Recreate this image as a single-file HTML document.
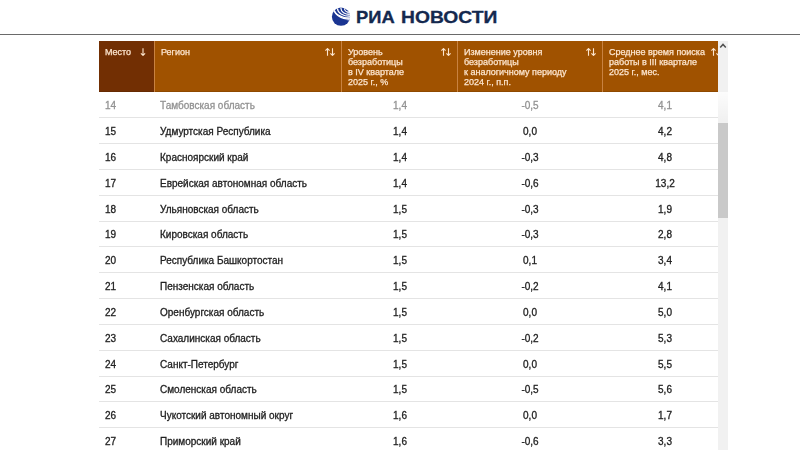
<!DOCTYPE html>
<html><head><meta charset="utf-8">
<style>
*{margin:0;padding:0;box-sizing:border-box}
html,body{width:800px;height:450px;overflow:hidden;background:#fff;font-family:"Liberation Sans",sans-serif}
.topline{position:absolute;left:0;top:33.5px;width:800px;height:1.5px;background:#6a6a6a}
.logo{position:absolute;left:330px;top:6px;width:22px;height:22px}
.lt{position:absolute;top:7.6px;font-weight:bold;font-size:16.5px;color:#14294f;-webkit-text-stroke:0.3px #14294f;white-space:nowrap;transform-origin:0 0}
.hdr{position:absolute;top:40.5px;height:51.5px;background:#a05200;color:#fde6cf;font-size:9px;line-height:9.9px;-webkit-text-stroke:0.25px #fde6cf;box-shadow:inset 0 -1px 0 rgba(0,0,0,0.1)}
.hdr .t{position:absolute;left:5.7px;top:7.2px;white-space:nowrap;will-change:transform}
.hdr .s{position:absolute;top:7.6px;width:10px;height:8px;line-height:0}
.hbg{position:absolute;left:99px;top:40.5px;width:629px;height:51.5px;background:#c88241}
.row{position:absolute;left:99px;width:619px;height:1px;background:#e4e4e4}
.c{position:absolute;font-size:10px;color:#222;white-space:nowrap;line-height:12px;-webkit-text-stroke:0.3px currentColor;will-change:transform}
.sb{position:absolute;left:718px;top:40.5px;width:10px;height:410px;background:#f1f1f1}
.th{position:absolute;left:718px;top:122.6px;width:10px;height:95.5px;background:#c9c9c9}
</style></head><body>
<div class="topline"></div>
<svg class="logo" viewBox="0 0 22 22">
<defs><clipPath id="cp"><circle cx="11" cy="10.7" r="9.1"/></clipPath>
<linearGradient id="fd" x1="0" x2="1" y1="0" y2="0"><stop offset="0.78" stop-color="#fff" stop-opacity="0"/><stop offset="1" stop-color="#fff" stop-opacity="0.55"/></linearGradient></defs>
<circle cx="11" cy="10.7" r="9.1" fill="#1a3592"/>
<g clip-path="url(#cp)" fill="none" stroke="#fff" stroke-width="1.2"><ellipse cx="19.7" cy="2.5" rx="2" ry="1.6" fill="#fff" stroke="none"/><ellipse cx="19.7" cy="2.5" rx="5.2" ry="3.9"/><ellipse cx="19.7" cy="2.5" rx="8.75" ry="5.9"/><ellipse cx="19.7" cy="2.5" rx="12.2" ry="7.75"/><ellipse cx="19.7" cy="2.5" rx="15.6" ry="9.7"/><ellipse cx="19.7" cy="2.5" rx="15.8" ry="10.7"/></g>
<rect x="2" y="0" width="18.2" height="15" fill="url(#fd)" clip-path="url(#cp)"/>
</svg>
<div class="lt" style="left:356px;transform:scaleX(1.11)">РИА</div>
<div class="lt" style="left:400.5px;transform:scaleX(1.167)">НОВОСТИ</div>

<div class="hbg"></div>
<div class="hdr" style="left:99px;width:55px;background:#722f03"><div class="t" style="left:5.8px">Место</div><div class="s" style="left:41px;width:6px"><svg viewBox="0 0 6 8" width="6" height="8"><g fill="none" stroke="#fde6cf" stroke-width="1.1"><path d="M3 0.2V7.4M0.9 5.3L3 7.4L5.1 5.3"/></g></svg></div></div>
<div class="hdr" style="left:155px;width:186px"><div class="t">Регион</div><div class="s" style="right:6px"><svg viewBox="0 0 10 8" width="10" height="8"><g fill="none" stroke="#fde6cf" stroke-width="1.1"><path d="M2.5 7.8V0.6M0.4 2.7L2.5 0.6L4.6 2.7"/><path d="M7.5 0.2V7.4M5.4 5.3L7.5 7.4L9.6 5.3"/></g></svg></div></div>
<div class="hdr" style="left:342px;width:115px"><div class="t">Уровень<br>безработицы<br>в IV квартале<br>2025 г., %</div><div class="s" style="right:6px"><svg viewBox="0 0 10 8" width="10" height="8"><g fill="none" stroke="#fde6cf" stroke-width="1.1"><path d="M2.5 7.8V0.6M0.4 2.7L2.5 0.6L4.6 2.7"/><path d="M7.5 0.2V7.4M5.4 5.3L7.5 7.4L9.6 5.3"/></g></svg></div></div>
<div class="hdr" style="left:458px;width:144px"><div class="t">Изменение уровня<br>безработицы<br>к аналогичному периоду<br>2024 г., п.п.</div><div class="s" style="right:6px"><svg viewBox="0 0 10 8" width="10" height="8"><g fill="none" stroke="#fde6cf" stroke-width="1.1"><path d="M2.5 7.8V0.6M0.4 2.7L2.5 0.6L4.6 2.7"/><path d="M7.5 0.2V7.4M5.4 5.3L7.5 7.4L9.6 5.3"/></g></svg></div></div>
<div class="hdr" style="left:603px;width:125px"><div class="t">Среднее время поиска<br>работы в III квартале<br>2025 г., мес.</div><div class="s" style="right:7px"><svg viewBox="0 0 10 8" width="10" height="8"><g fill="none" stroke="#fde6cf" stroke-width="1.1"><path d="M2.5 7.8V0.6M0.4 2.7L2.5 0.6L4.6 2.7"/><path d="M7.5 0.2V7.4M5.4 5.3L7.5 7.4L9.6 5.3"/></g></svg></div></div>
<div class="c" style="left:104.8px;top:100.30px;color:#929292">14</div>
<div class="c" style="left:160.2px;top:100.30px;color:#929292">Тамбовская область</div>
<div class="c" style="left:360.0px;width:80px;text-align:center;top:100.30px;color:#929292">1,4</div>
<div class="c" style="left:490.29999999999995px;width:80px;text-align:center;top:100.30px;color:#929292">-0,5</div>
<div class="c" style="left:625.0px;width:80px;text-align:center;top:100.30px;color:#929292">4,1</div>
<div class="row" style="top:117.33px"></div>
<div class="c" style="left:104.8px;top:126.13px;color:#222">15</div>
<div class="c" style="left:160.2px;top:126.13px;color:#222">Удмуртская Республика</div>
<div class="c" style="left:360.0px;width:80px;text-align:center;top:126.13px;color:#222">1,4</div>
<div class="c" style="left:490.29999999999995px;width:80px;text-align:center;top:126.13px;color:#222">0,0</div>
<div class="c" style="left:625.0px;width:80px;text-align:center;top:126.13px;color:#222">4,2</div>
<div class="row" style="top:143.16px"></div>
<div class="c" style="left:104.8px;top:151.96px;color:#222">16</div>
<div class="c" style="left:160.2px;top:151.96px;color:#222">Красноярский край</div>
<div class="c" style="left:360.0px;width:80px;text-align:center;top:151.96px;color:#222">1,4</div>
<div class="c" style="left:490.29999999999995px;width:80px;text-align:center;top:151.96px;color:#222">-0,3</div>
<div class="c" style="left:625.0px;width:80px;text-align:center;top:151.96px;color:#222">4,8</div>
<div class="row" style="top:168.99px"></div>
<div class="c" style="left:104.8px;top:177.79px;color:#222">17</div>
<div class="c" style="left:160.2px;top:177.79px;color:#222">Еврейская автономная область</div>
<div class="c" style="left:360.0px;width:80px;text-align:center;top:177.79px;color:#222">1,4</div>
<div class="c" style="left:490.29999999999995px;width:80px;text-align:center;top:177.79px;color:#222">-0,6</div>
<div class="c" style="left:625.0px;width:80px;text-align:center;top:177.79px;color:#222">13,2</div>
<div class="row" style="top:194.82px"></div>
<div class="c" style="left:104.8px;top:203.62px;color:#222">18</div>
<div class="c" style="left:160.2px;top:203.62px;color:#222">Ульяновская область</div>
<div class="c" style="left:360.0px;width:80px;text-align:center;top:203.62px;color:#222">1,5</div>
<div class="c" style="left:490.29999999999995px;width:80px;text-align:center;top:203.62px;color:#222">-0,3</div>
<div class="c" style="left:625.0px;width:80px;text-align:center;top:203.62px;color:#222">1,9</div>
<div class="row" style="top:220.65px"></div>
<div class="c" style="left:104.8px;top:229.45px;color:#222">19</div>
<div class="c" style="left:160.2px;top:229.45px;color:#222">Кировская область</div>
<div class="c" style="left:360.0px;width:80px;text-align:center;top:229.45px;color:#222">1,5</div>
<div class="c" style="left:490.29999999999995px;width:80px;text-align:center;top:229.45px;color:#222">-0,3</div>
<div class="c" style="left:625.0px;width:80px;text-align:center;top:229.45px;color:#222">2,8</div>
<div class="row" style="top:246.48px"></div>
<div class="c" style="left:104.8px;top:255.28px;color:#222">20</div>
<div class="c" style="left:160.2px;top:255.28px;color:#222">Республика Башкортостан</div>
<div class="c" style="left:360.0px;width:80px;text-align:center;top:255.28px;color:#222">1,5</div>
<div class="c" style="left:490.29999999999995px;width:80px;text-align:center;top:255.28px;color:#222">0,1</div>
<div class="c" style="left:625.0px;width:80px;text-align:center;top:255.28px;color:#222">3,4</div>
<div class="row" style="top:272.31px"></div>
<div class="c" style="left:104.8px;top:281.11px;color:#222">21</div>
<div class="c" style="left:160.2px;top:281.11px;color:#222">Пензенская область</div>
<div class="c" style="left:360.0px;width:80px;text-align:center;top:281.11px;color:#222">1,5</div>
<div class="c" style="left:490.29999999999995px;width:80px;text-align:center;top:281.11px;color:#222">-0,2</div>
<div class="c" style="left:625.0px;width:80px;text-align:center;top:281.11px;color:#222">4,1</div>
<div class="row" style="top:298.14px"></div>
<div class="c" style="left:104.8px;top:306.94px;color:#222">22</div>
<div class="c" style="left:160.2px;top:306.94px;color:#222">Оренбургская область</div>
<div class="c" style="left:360.0px;width:80px;text-align:center;top:306.94px;color:#222">1,5</div>
<div class="c" style="left:490.29999999999995px;width:80px;text-align:center;top:306.94px;color:#222">0,0</div>
<div class="c" style="left:625.0px;width:80px;text-align:center;top:306.94px;color:#222">5,0</div>
<div class="row" style="top:323.97px"></div>
<div class="c" style="left:104.8px;top:332.77px;color:#222">23</div>
<div class="c" style="left:160.2px;top:332.77px;color:#222">Сахалинская область</div>
<div class="c" style="left:360.0px;width:80px;text-align:center;top:332.77px;color:#222">1,5</div>
<div class="c" style="left:490.29999999999995px;width:80px;text-align:center;top:332.77px;color:#222">-0,2</div>
<div class="c" style="left:625.0px;width:80px;text-align:center;top:332.77px;color:#222">5,3</div>
<div class="row" style="top:349.80px"></div>
<div class="c" style="left:104.8px;top:358.60px;color:#222">24</div>
<div class="c" style="left:160.2px;top:358.60px;color:#222">Санкт-Петербург</div>
<div class="c" style="left:360.0px;width:80px;text-align:center;top:358.60px;color:#222">1,5</div>
<div class="c" style="left:490.29999999999995px;width:80px;text-align:center;top:358.60px;color:#222">0,0</div>
<div class="c" style="left:625.0px;width:80px;text-align:center;top:358.60px;color:#222">5,5</div>
<div class="row" style="top:375.63px"></div>
<div class="c" style="left:104.8px;top:384.43px;color:#222">25</div>
<div class="c" style="left:160.2px;top:384.43px;color:#222">Смоленская область</div>
<div class="c" style="left:360.0px;width:80px;text-align:center;top:384.43px;color:#222">1,5</div>
<div class="c" style="left:490.29999999999995px;width:80px;text-align:center;top:384.43px;color:#222">-0,5</div>
<div class="c" style="left:625.0px;width:80px;text-align:center;top:384.43px;color:#222">5,6</div>
<div class="row" style="top:401.46px"></div>
<div class="c" style="left:104.8px;top:410.26px;color:#222">26</div>
<div class="c" style="left:160.2px;top:410.26px;color:#222">Чукотский автономный округ</div>
<div class="c" style="left:360.0px;width:80px;text-align:center;top:410.26px;color:#222">1,6</div>
<div class="c" style="left:490.29999999999995px;width:80px;text-align:center;top:410.26px;color:#222">0,0</div>
<div class="c" style="left:625.0px;width:80px;text-align:center;top:410.26px;color:#222">1,7</div>
<div class="row" style="top:427.29px"></div>
<div class="c" style="left:104.8px;top:436.09px;color:#222">27</div>
<div class="c" style="left:160.2px;top:436.09px;color:#222">Приморский край</div>
<div class="c" style="left:360.0px;width:80px;text-align:center;top:436.09px;color:#222">1,6</div>
<div class="c" style="left:490.29999999999995px;width:80px;text-align:center;top:436.09px;color:#222">-0,6</div>
<div class="c" style="left:625.0px;width:80px;text-align:center;top:436.09px;color:#222">3,3</div>
<div class="row" style="top:453.12px"></div>
<div class="sb"></div>
<div class="th"></div>
<div style="position:absolute;left:718px;top:92px;width:10px;height:28px;background:linear-gradient(rgba(255,255,255,0.8),rgba(255,255,255,0))"></div>
<svg style="position:absolute;left:718px;top:40px" width="10" height="10" viewBox="0 0 10 10"><path d="M2.2 7.4L5 4.4L7.8 7.4" fill="none" stroke="#505050" stroke-width="1.5"/></svg>
</body></html>
